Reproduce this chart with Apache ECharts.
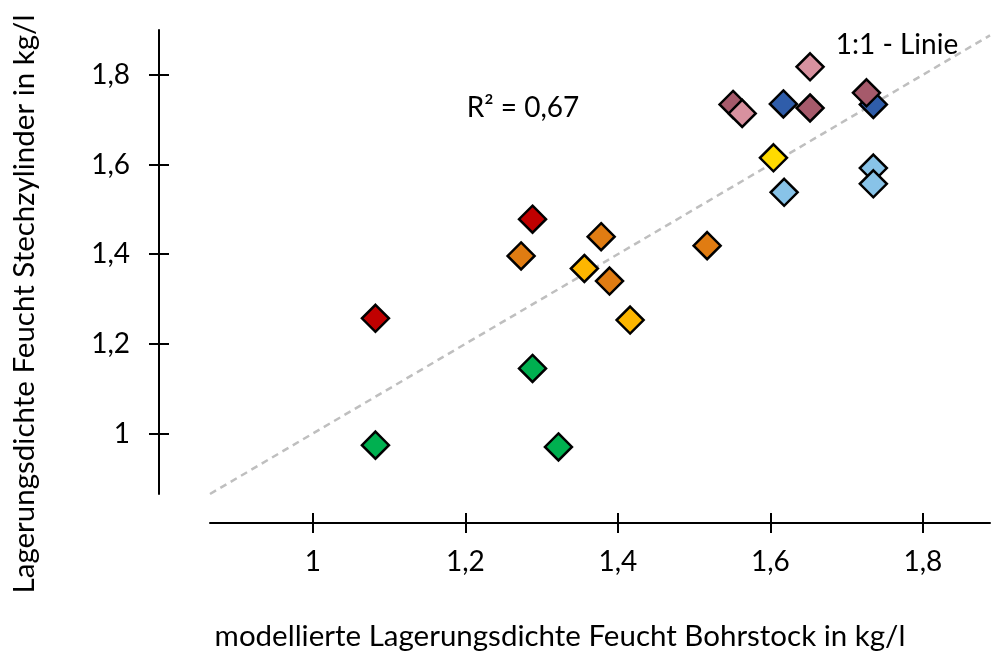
<!DOCTYPE html>
<html>
<head>
<meta charset="utf-8">
<script src="https://cdn.jsdelivr.net/npm/echarts@6/dist/echarts.min.js"></script>
<style>
  html, body { margin: 0; padding: 0; background: #fff; }
  #chart { width: 992px; height: 655px; }
</style>
</head>
<body>
<div id="chart"></div>
<script>
// Lagerungsdichte: Bohrstock-Modell (x) gegen Stechzylinder (y), kg/l
const tickValues = [1, 1.2, 1.4, 1.6, 1.8];
const xRange = [0.865, 1.888];
const yRange = [0.865, 1.9];
const oneToOne = [0.865, 1.888];

const rot        = [[1.082, 1.257], [1.288, 1.478]];
const gruen      = [[1.082, 0.974], [1.288, 1.145], [1.322, 0.970]];
const orange     = [[1.273, 1.396], [1.378, 1.439], [1.389, 1.340], [1.517, 1.419]];
const hellorange = [[1.356, 1.368], [1.416, 1.253]];
const gelb       = [[1.604, 1.615]];
const hellblau   = [[1.618, 1.538], [1.735, 1.592], [1.735, 1.557]];
const dunkelblau = [[1.617, 1.735], [1.735, 1.734]];
const altrosa    = [[1.551, 1.734], [1.652, 1.726], [1.726, 1.760]];
const rosa       = [[1.563, 1.714], [1.652, 1.818]];

const groups = [
  { data: rot, color: '#C00000' },
  { data: gruen, color: '#00B050' },
  { data: orange, color: '#E07C12' },
  { data: hellorange, color: '#FDB600' },
  { data: gelb, color: '#FFDA00' },
  { data: hellblau, color: '#88C3E8' },
  { data: dunkelblau, color: '#2F5DAA' },
  { data: altrosa, color: '#A65A6B' },
  { data: rosa, color: '#D8919F' }
];

const FONT = 'Lato, "Open Sans", sans-serif';
const LABEL_SIZE = 28;
const TITLE_SIZE = 29.5;
const fmt = v => String(Math.round(v * 10) / 10).replace('.', ',');

const axisLineStyle = { show: true, lineStyle: { color: '#000', width: 2 } };

function xAxisDef(inside) {
  return {
    type: 'value', min: xRange[0], max: xRange[1],
    position: 'bottom', offset: 29,
    axisLine: inside ? { show: false } : axisLineStyle,
    axisTick: { show: true, inside: inside, length: 10, customValues: tickValues,
      lineStyle: { color: '#000', width: 2 } },
    axisLabel: inside ? { show: false } : {
      show: true, customValues: tickValues, formatter: fmt, margin: 25,
      fontFamily: FONT, fontSize: LABEL_SIZE, color: '#000'
    },
    splitLine: { show: false }
  };
}
function yAxisDef(inside) {
  return {
    type: 'value', min: yRange[0], max: yRange[1],
    position: 'left', offset: 51,
    axisLine: inside ? { show: false } : axisLineStyle,
    axisTick: { show: true, inside: inside, length: 10, customValues: tickValues,
      lineStyle: { color: '#000', width: 2 } },
    axisLabel: inside ? { show: false } : {
      show: true, customValues: tickValues, formatter: fmt, margin: 29,
      fontFamily: FONT, fontSize: LABEL_SIZE, color: '#000'
    },
    splitLine: { show: false }
  };
}

const series = [{
  type: 'line',
  data: oneToOne.map(v => [v, v]),
  symbol: 'none',
  silent: true,
  z: 1,
  lineStyle: { color: '#BFBFBF', width: 2.5, type: [7, 5] }
}];
groups.forEach(g => {
  series.push({
    type: 'scatter',
    data: g.data,
    symbol: 'diamond',
    symbolSize: 27,
    z: 3,
    itemStyle: { color: g.color, borderColor: '#000', borderWidth: 2.5, opacity: 1 }
  });
});

const chart = echarts.init(document.getElementById('chart'), null, { renderer: 'canvas' });
chart.setOption({
  animation: false,
  backgroundColor: '#fff',
  grid: { left: 210, right: 2, top: 30, bottom: 161, containLabel: false },
  xAxis: [xAxisDef(false), xAxisDef(true)],
  yAxis: [yAxisDef(false), yAxisDef(true)],
  series: series,
  graphic: [
    { type: 'text', x: 523, y: 108,
      style: { text: 'R² = 0,67', fontFamily: FONT, fontSize: LABEL_SIZE, fill: '#000',
        align: 'center', verticalAlign: 'middle' } },
    { type: 'text', x: 897, y: 45,
      style: { text: '1:1 - Linie', fontFamily: FONT, fontSize: LABEL_SIZE, fill: '#000',
        align: 'center', verticalAlign: 'middle' } },
    { type: 'text', x: 560, y: 636,
      style: { text: 'modellierte Lagerungsdichte Feucht Bohrstock in kg/l', fontFamily: FONT,
        fontSize: TITLE_SIZE, fill: '#000', align: 'center', verticalAlign: 'middle' } },
    { type: 'text', x: 24, y: 304, rotation: Math.PI / 2,
      style: { text: 'Lagerungsdichte Feucht Stechzylinder in kg/l', fontFamily: FONT,
        fontSize: TITLE_SIZE, fill: '#000', align: 'center', verticalAlign: 'middle' } }
  ]
});
</script>
</body>
</html>
